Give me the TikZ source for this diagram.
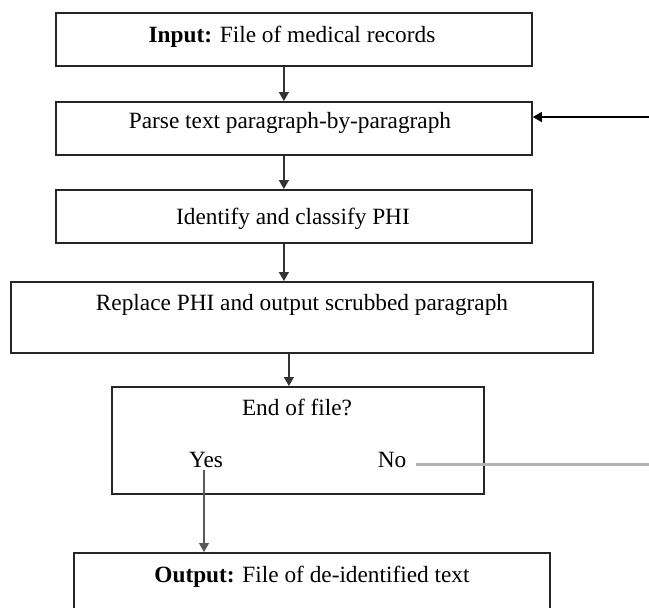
\documentclass[tikz,border=0pt]{standalone}
\usepackage{fontspec}
\setmainfont{Liberation Serif}
\usetikzlibrary{arrows.meta}
\begin{document}
\begin{tikzpicture}[x=1pt,y=-1pt,
  box/.style={draw=black!85,line width=1.8pt,rectangle,inner sep=0pt,anchor=north west},
  lbl/.style={anchor=base,inner sep=0pt,font=\fontsize{23.3}{28}\selectfont},
  arr/.style={draw=black!80,line width=1.3pt,-{Triangle[length=9pt,width=10pt]}},
  noline/.style={draw=black!30,line width=3pt}]
\useasboundingbox (0,0) rectangle (649,608);
\clip (0,0) rectangle (649,608);
% boxes
\node[box,minimum width=476pt,minimum height=53pt] (b1) at (55,12) {};
\node[box,minimum width=476pt,minimum height=53pt] (b2) at (55,101) {};
\node[box,minimum width=476pt,minimum height=53pt] (b3) at (55,189) {};
\node[box,minimum width=582pt,minimum height=71pt] (b4) at (10,281) {};
\node[box,minimum width=372pt,minimum height=107pt] (b5) at (111,386) {};
\node[box,minimum width=476pt,minimum height=100pt] (b6) at (73,552) {};
% texts
\node[lbl] (t1) at (292,42) {\textbf{Input:} File of medical records};
\node[lbl] (t2) at (290,128) {Parse text paragraph-by-paragraph};
\node[lbl] (t3) at (293,224) {Identify and classify PHI};
\node[lbl] (t4) at (302,310) {Replace PHI and output scrubbed paragraph};
\node[lbl] (t5) at (297,415) {End of file?};
\node[lbl] (yes) at (206,467) {Yes};
\node[lbl] (no) at (392,467) {No};
\node[lbl] (t6) at (312,582) {\textbf{Output:} File of de-identified text};
% connectors
\draw[arr] ([xshift=-10pt]b1.south) -- ([xshift=-10pt]b2.north);
\draw[arr] ([xshift=-10pt]b2.south) -- ([xshift=-10pt]b3.north);
\draw[arr] ([xshift=-10pt]b3.south) -- ([xshift=-10pt]b3.south |- b4.north);
\draw[arr] ([xshift=-13pt]b4.south) -- ([xshift=-13pt]b4.south |- b5.north);
\draw[arr,draw=black!65] ([xshift=-2pt,yshift=-3pt]yes.south) -- ([xshift=-2pt]yes.south |- b6.north);
\coordinate (rin) at (649,117);
\draw[arr,draw=black] (rin) -- (rin -| b2.east);
\coordinate (nout) at (649,464);
\draw[noline] ([xshift=10pt]no.east |- nout) -- (nout);
\end{tikzpicture}
\end{document}
